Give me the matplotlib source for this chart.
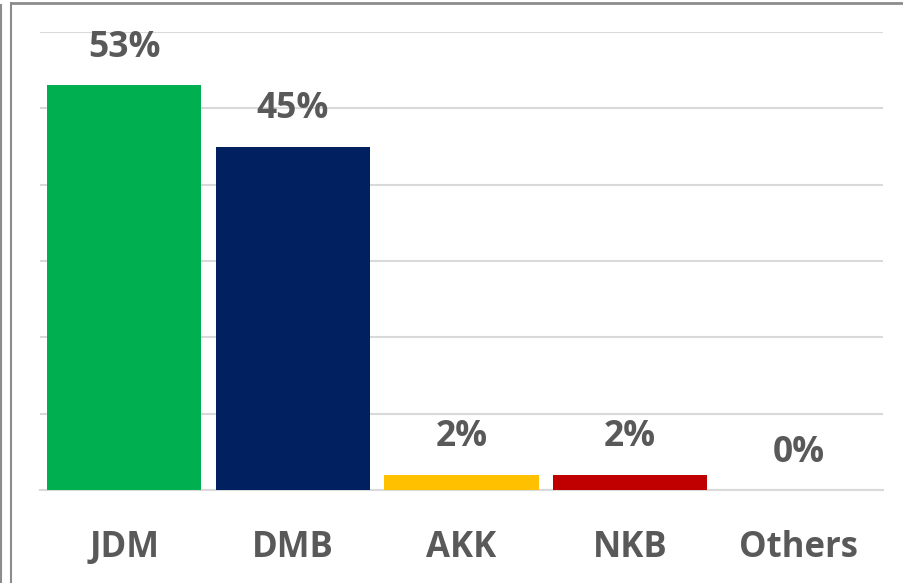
import matplotlib.pyplot as plt
from matplotlib.lines import Line2D

plt.rcParams['font.family'] = ['Open Sans', 'DejaVu Sans']

# data
parties = ['JDM', 'DMB', 'AKK', 'NKB', 'Others']
shares = [53, 45, 2, 2, 0]
colors = ['#00B050', '#002060', '#FFC000', '#C00000', '#A5A5A5']

fig = plt.figure(figsize=(9.04, 5.83), dpi=100)
ax = fig.add_axes([40 / 904, 1 - 490 / 583, 843 / 904, 458 / 583])

x = range(len(parties))
bars = ax.bar(x, shares, width=0.915, color=colors, zorder=3)

for b, v in zip(bars, shares):
    ax.annotate(f'{v}%', (b.get_x() + b.get_width() / 2, v),
                xytext=(0, 27), textcoords='offset points',
                ha='center', va='center', fontsize=25.5, fontweight='bold',
                color='#595959')

ax.set_xlim(-0.5, len(parties) - 0.5)
ax.set_ylim(0, 60)
ax.set_yticks(range(0, 61, 10))
ax.yaxis.grid(True, color='#D9D9D9', linewidth=1.5, zorder=0)
ax.set_xticks(list(x))
ax.set_xticklabels(parties, fontsize=25, fontweight='bold', color='#595959')
ax.tick_params(axis='x', length=0, pad=29)
ax.tick_params(axis='y', length=0, labelleft=False)
for s in ['top', 'right', 'left']:
    ax.spines[s].set_visible(False)
ax.spines['bottom'].set_color('#D9D9D9')
ax.spines['bottom'].set_linewidth(1.5)

# outer frame fragments
W, H = 904, 583
fig.add_artist(Line2D([1 / W, 1 / W], [0, 1 - 5 / H], color='#8C8C8C', lw=1.5))
fig.add_artist(Line2D([11 / W, 11 / W], [0, 1 - 3 / H], color='#8C8C8C', lw=1.5))
fig.add_artist(Line2D([11 / W, 1], [1 - 3 / H, 1 - 3 / H], color='#8C8C8C', lw=2))

fig.savefig('out.png', dpi=100, facecolor='white')
